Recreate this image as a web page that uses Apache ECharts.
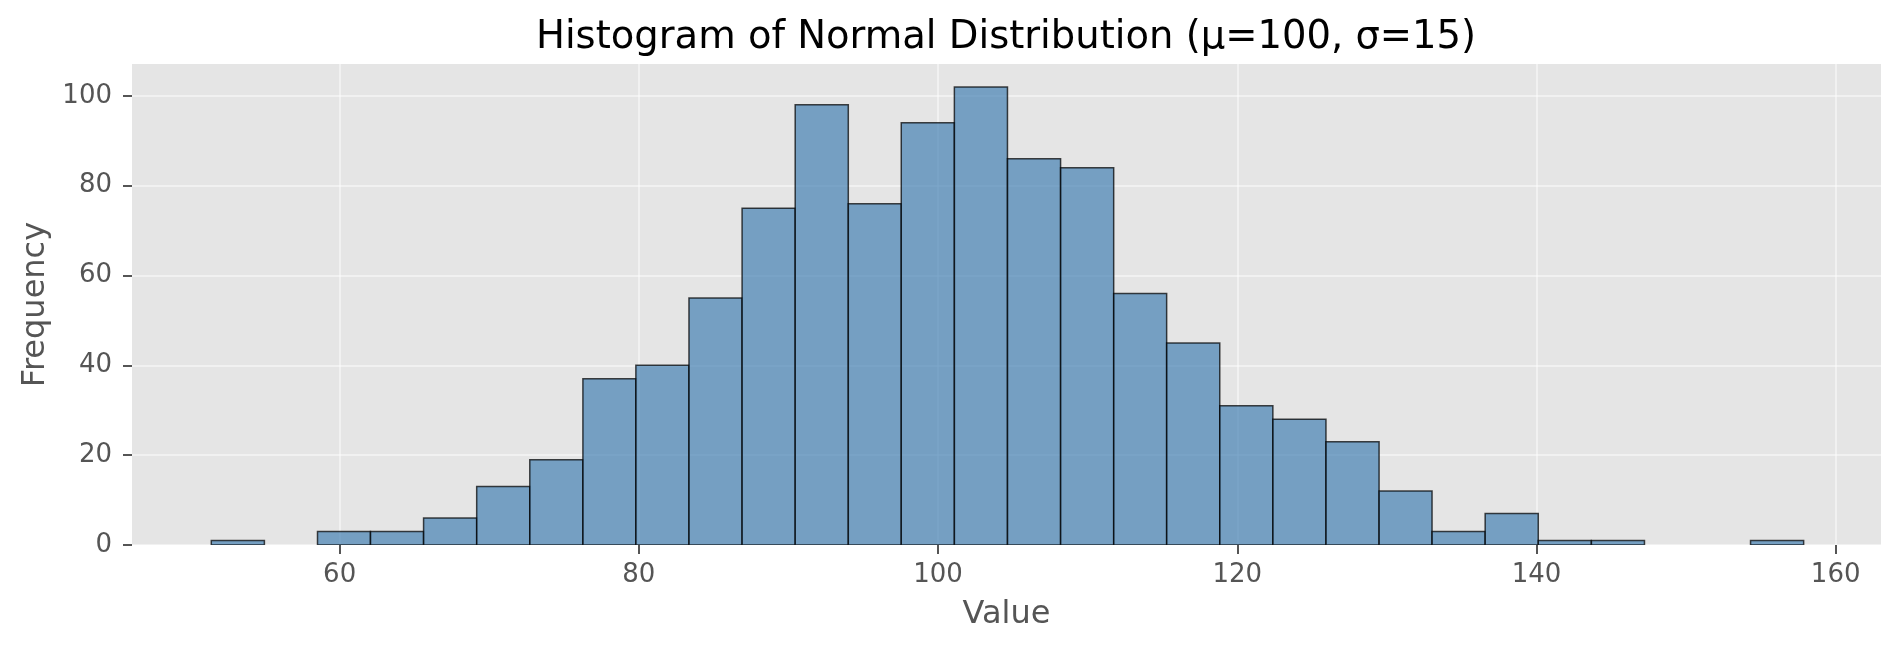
<!DOCTYPE html>
<html>
<head>
<meta charset="utf-8">
<script src="https://cdn.jsdelivr.net/npm/echarts@6/dist/echarts.min.js"></script>
<style>
  html, body { margin: 0; padding: 0; background: #ffffff; }
  #chart { width: 1901px; height: 651px; }
</style>
</head>
<body>
<div id="chart"></div>
<script>
// Histogram bin edges (31 edges -> 30 bins)
const binEdges = [51.42, 54.97, 58.52, 62.06, 65.61, 69.16, 72.71, 76.26, 79.80, 83.35,
                  86.90, 90.45, 94.00, 97.54, 101.09, 104.64, 108.19, 111.74, 115.28, 118.83,
                  122.38, 125.93, 129.48, 133.02, 136.57, 140.12, 143.67, 147.22, 150.76, 154.31,
                  157.86];
// Frequencies per bin
const counts = [1, 0, 3, 3, 6, 13, 19, 37, 40, 55,
                75, 98, 76, 94, 102, 86, 84, 56, 45, 31,
                28, 23, 12, 3, 7, 1, 1, 0, 0, 1];
// Tick labels
const xTicks = [60, 80, 100, 120, 140, 160];
const yTicks = [0, 20, 40, 60, 80, 100];
const xRange = [46.12, 163.03];
const yRange = [0, 107.1];

const titleText = 'Histogram of Normal Distribution (μ=100, σ=15)';

const histData = counts.map((c, i) => [binEdges[i], binEdges[i + 1], c]);

const FONT = 'DejaVu Sans';
const chart = echarts.init(document.getElementById('chart'), null, { renderer: 'canvas' });

const option = {
  backgroundColor: '#ffffff',
  animation: false,
  title: {
    text: titleText,
    left: 1001,
    textAlign: 'center',
    top: 13,
    textStyle: { fontFamily: FONT, fontSize: 38.5, fontWeight: 'normal', color: '#000000' }
  },
  grid: {
    left: 132, right: 20, top: 64, bottom: 106,
    show: true, backgroundColor: '#E5E5E5', borderWidth: 0
  },
  xAxis: {
    type: 'value',
    min: xRange[0], max: xRange[1],
    name: 'Value',
    nameLocation: 'middle',
    nameGap: 54,
    nameTextStyle: { fontFamily: FONT, fontSize: 32, color: '#555555' },
    axisLine: { show: false },
    axisTick: { show: true, length: 9, lineStyle: { color: '#555555', width: 2 }, customValues: xTicks },
    axisLabel: { fontFamily: FONT, fontSize: 26, color: '#555555', margin: 17, customValues: xTicks },
    splitLine: { show: true, lineStyle: { color: 'rgba(255,255,255,0.45)', width: 2 } }
  },
  yAxis: {
    type: 'value',
    min: yRange[0], max: yRange[1],
    name: 'Frequency',
    nameLocation: 'middle',
    nameGap: 80,
    nameTextStyle: { fontFamily: FONT, fontSize: 32, color: '#555555' },
    axisLine: { show: false },
    axisTick: { show: true, length: 9, lineStyle: { color: '#555555', width: 2 }, customValues: yTicks },
    axisLabel: { fontFamily: FONT, fontSize: 26, color: '#555555', margin: 20, customValues: yTicks },
    splitLine: { show: true, lineStyle: { color: 'rgba(255,255,255,0.45)', width: 2 } }
  },
  series: [{
    type: 'custom',
    data: histData,
    encode: { x: [0, 1], y: 2 },
    clip: true,
    renderItem: function (params, api) {
      const h = api.value(2);
      if (!h) return null;
      const p0 = api.coord([api.value(0), 0]);
      const p1 = api.coord([api.value(1), h]);
      return {
        type: 'rect',
        shape: { x: p0[0], y: p1[1], width: p1[0] - p0[0], height: p0[1] - p1[1] },
        style: { fill: 'rgba(70,130,180,0.7)', stroke: 'rgba(0,0,0,0.72)', lineWidth: 1.5 }
      };
    }
  }]
};
chart.setOption(option);
</script>
</body>
</html>
